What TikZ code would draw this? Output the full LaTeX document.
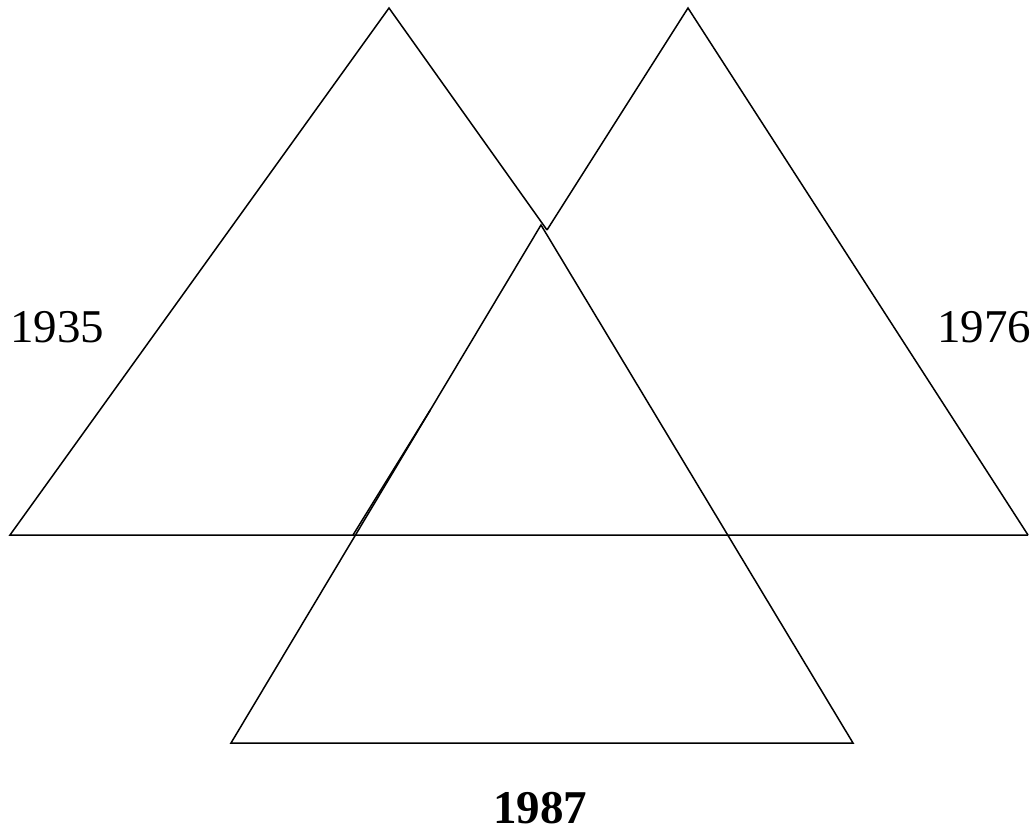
\documentclass[tikz,border=0pt]{standalone}
\usepackage{fontspec}
\setmainfont{Liberation Serif}
\begin{document}
\begin{tikzpicture}[x=1pt,y=-1pt,
  edge/.style={line width=1.5pt,line join=miter},
  yearlabel/.style={font=\fontsize{47}{50}\selectfont,inner sep=0pt}]
\useasboundingbox (0,0) rectangle (1031,838);
% vertices
\coordinate (a1) at (389,8);
\coordinate (a2) at (10,535);
\coordinate (aX) at (547,230);
\coordinate (b1) at (688,8);
\coordinate (b3) at (1028,535);
\coordinate (bL1) at (430.3,410);
\coordinate (bL2) at (353,535);
\coordinate (c1) at (541,225);
\coordinate (c2) at (231,743);
\coordinate (c3) at (853,743);
% triangle 1935
\draw[edge] (aX) -- (a1) -- (a2) -- (b3);
% triangle 1976
\draw[edge] (aX) -- (b1) -- (b3);
\draw[edge] (bL1) -- (bL2);
% triangle 1987
\draw[edge] (c1) -- (c2) -- (c3) -- cycle;
% labels
\node[yearlabel] (y1935) at (57,327) {1935};
\node[yearlabel] (y1976) at (984,327) {1976};
\node[yearlabel,font=\fontsize{47}{50}\selectfont\bfseries] (y1987) at (540,808) {1987};
\end{tikzpicture}
\end{document}
